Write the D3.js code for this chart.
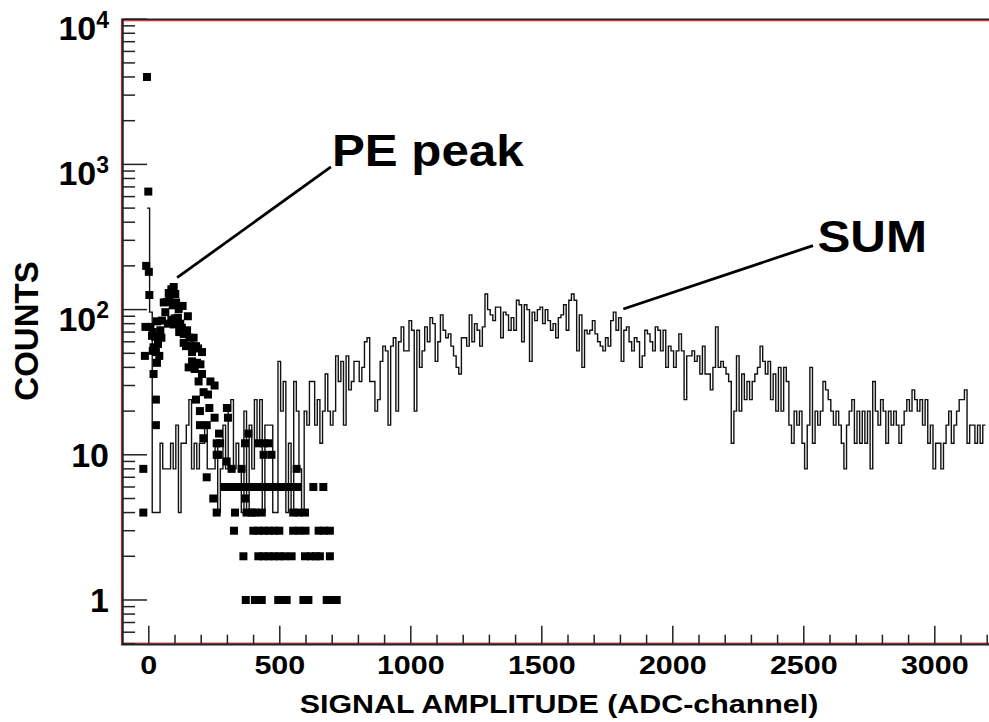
<!DOCTYPE html>
<html>
<head>
<meta charset="utf-8">
<script src="https://cdn.jsdelivr.net/npm/d3@7"></script>
<style>
  body { margin: 0; background: #fff; }
  svg { display: block; font-family: "Liberation Sans", Arial, Helvetica, sans-serif; font-weight: bold; }
</style>
</head>
<body>
<div id="chart"></div>
<script>
// SUM histogram: counts in 10-channel bins, bins centred on 0, 10, 20, ...
const binWidth = 10;
const sumStart = 0;
const sumCounts = [
  500, 96, 4, 4, 4, 12, 8, 8, 8, 12,
  8, 16, 4, 12, 12, 16, 24, 8, 12, 8,
  12, 12, 16, 8, 8, 8, 12, 4, 8, 16,
  8, 20, 24, 8, 12, 8, 4, 20, 4, 16,
  8, 24, 12, 24, 4, 16, 16, 16, 4, 4,
  44, 20, 32, 4, 12, 4, 32, 20, 8, 4,
  20, 16, 32, 32, 16, 24, 12, 20, 36, 20,
  16, 20, 48, 32, 44, 16, 48, 28, 32, 44,
  44, 32, 40, 60, 64, 32, 32, 20, 24, 44,
  56, 52, 16, 56, 64, 20, 60, 76, 52, 52,
  84, 72, 20, 72, 40, 52, 76, 60, 88, 80,
  44, 60, 92, 72, 64, 68, 56, 48, 40, 36,
  64, 64, 56, 92, 60, 80, 72, 56, 76, 128,
  100, 92, 84, 104, 104, 64, 96, 92, 72, 88,
  72, 116, 108, 60, 108, 100, 44, 96, 84, 100,
  104, 80, 100, 84, 72, 80, 64, 88, 92, 108,
  72, 116, 128, 116, 52, 92, 40, 72, 68, 72,
  84, 68,
  60, 56, 52, 64, 56, 84, 96, 72, 88, 44,
  72, 76, 60, 52, 64, 60, 40, 48, 72, 68,
  60, 52, 76, 72, 52, 72, 40, 56, 52, 40,
  52, 68, 52, 24, 48, 48, 52, 44, 48, 36,
  56, 36, 36, 28, 40, 76, 40, 44, 40, 36,
  32, 12, 20, 48, 20, 36, 24, 32, 24, 32,
  36, 40, 56, 44, 36, 44, 24, 36, 20, 40,
  20, 40, 32, 16, 12, 20, 16, 20, 12, 8,
  16, 40, 12, 20, 16, 20, 32, 28, 24, 20,
  16, 20, 16, 12, 8, 16, 20, 24, 12, 20,
  12, 20, 12, 20, 8, 32, 20, 16, 24, 20,
  12, 20, 16, 20, 16, 12, 16, 20, 24, 20,
  28, 24, 20, 24, 16, 24, 12, 16, 8, 12,
  12, 8, 12, 16, 20, 12, 16, 20, 24, 24,
  28, 12, 16, 16, 12, 16, 12, 16
];

// PE peak points (ADC channel, counts)
const peChannels = [
  -5, 0, -8, 2, 4, -11, -13, -19, -19,
  8, 14, 17, 17, 20, 20, 27, 29, 29, 29, 33, 33, 37, 42, 46, 50, 52,
  59, 65, 71, 75, 78, 80, 88, 88, 93, 97, 97, 101, 103, 106, 113, 116, 118, 122, 128,
  131, 135, 135, 144, 148, 151, 154, 157, 164, 167, 167, 173, 177, 182, 182, 186, 190,
  192, 197, 197, 199, 205, 205, 210, 211, 223, 223, 228, 233, 237, 248, 253, 253,
  261, 261, 261, 267, 270, 274, 299, 300, 304,
  318, 356, 566,
  369, 420, 440, 458, 382, 440, 470,
  290, 310, 330, 350, 370, 390, 410, 430, 450, 470, 490, 510, 530, 550, 570, 630, 668,
  369,
  331, 375, 395, 407, 433, 553, 575, 598,
  327, 401, 420, 440, 460, 480, 500, 553, 575, 600, 650, 670, 693,
  363, 420, 440, 460, 480, 500, 520, 547, 598, 620, 640, 655, 693,
  372, 407, 433, 496, 515, 528, 592, 611, 681, 700, 719
];
const peCounts = [
  4000, 650, 200, 182, 126, 76, 48, 8, 4,
  76, 66, 70, 52, 55, 36, 65, 51, 24, 16, 83, 43, 58, 48, 72, 64, 84,
  112, 96, 113, 80, 130, 115, 138, 85, 107, 143, 79, 87, 128, 112, 88, 101, 70, 80, 75,
  106, 68, 59, 56, 72, 90, 40, 64, 56, 51, 44, 64, 39, 56, 24, 43, 54,
  32, 20, 16, 42, 51, 36, 13, 27, 16, 7, 26, 21, 32, 5, 30, 18,
  12, 10, 4, 10, 14, 12, 9, 21, 18,
  8, 8, 8,
  12, 12, 12, 12, 14, 10, 10,
  6, 6, 6, 6, 6, 6, 6, 6, 6, 6, 6, 6, 6, 6, 6, 6, 6,
  5,
  4, 4, 4, 4, 4, 4, 4, 4,
  3, 3, 3, 3, 3, 3, 3, 3, 3, 3, 3, 3, 3,
  2, 2, 2, 2, 2, 2, 2, 2, 2, 2, 2, 2, 2,
  1, 1, 1, 1, 1, 1, 1, 1, 1, 1, 1
];

const xTickValues = [0, 500, 1000, 1500, 2000, 2500, 3000];
const yTickValues = [1, 10, 100, 1000, 10000];
const yTickBase = ["1", "10", "10", "10", "10"];
const yTickExp = ["", "", "2", "3", "4"];

// annotations in data coordinates
const annotations = [
  { text: "PE peak", from: [110, 166], to: [697, 960], at: [701, 975] },
  { text: "SUM", from: [1813, 101], to: [2537, 276], at: [2554, 249] }
];

const width = 989, height = 722;

const svg = d3.select("#chart").append("svg")
  .attr("width", width)
  .attr("height", height);

svg.append("rect").attr("width", width).attr("height", height).attr("fill", "#fff");

// scales
const x = d3.scaleLinear().domain([0, 3000]).range([148.3, 934.3]);
const y = d3.scaleLog().domain([0.5, 10000]).range([643.7, 19.2]);

const plotLeft = x(-104), plotRight = x(3400), plotTop = y(10000), plotBottom = y(0.5);

svg.append("defs").append("clipPath").attr("id", "plot")
  .append("rect").attr("x", plotLeft).attr("y", plotTop)
  .attr("width", plotRight - plotLeft).attr("height", plotBottom - plotTop);

// frame: red border inside black axis lines
svg.append("rect")
  .attr("x", plotLeft + 0.5).attr("y", plotTop + 1.5)
  .attr("width", plotRight - plotLeft).attr("height", plotBottom - plotTop - 2)
  .attr("fill", "none").attr("stroke", "#c0282d").attr("stroke-width", 1.2);
svg.append("line").attr("x1", plotLeft).attr("x2", plotRight).attr("y1", plotTop).attr("y2", plotTop)
  .attr("stroke", "#222").attr("stroke-width", 1.6);
svg.append("line").attr("x1", plotLeft + 1.8).attr("x2", plotLeft + 1.8).attr("y1", plotTop).attr("y2", plotBottom + 1)
  .attr("stroke", "#222").attr("stroke-width", 1.8);
svg.append("line").attr("x1", plotLeft).attr("x2", plotRight).attr("y1", plotBottom + 0.8).attr("y2", plotBottom + 0.8)
  .attr("stroke", "#222").attr("stroke-width", 1.8);

// x axis ticks (inside, pointing up)
const xMinor = d3.range(100, 3300, 100).filter(v => v % 500 !== 0);
const xAxisMajor = svg.append("g")
  .attr("transform", `translate(0,${plotBottom})`)
  .call(d3.axisBottom(x).tickValues(xTickValues).tickSize(-18).tickFormat(d3.format("d")));
xAxisMajor.select(".domain").remove();
xAxisMajor.selectAll("line").attr("stroke", "#222").attr("stroke-width", 1.5);
xAxisMajor.selectAll("text")
  .attr("y", 30.5).attr("dy", 0)
  .attr("transform", "scale(1.15,1)")
  .style("font-size", "26.5px").style("font-weight", "bold").attr("fill", "#000")
  .style("font-family", "Liberation Sans, Arial, sans-serif");

const xAxisMinor = svg.append("g")
  .attr("transform", `translate(0,${plotBottom})`)
  .call(d3.axisBottom(x).tickValues(xMinor).tickSize(-9).tickFormat(""));
xAxisMinor.select(".domain").remove();
xAxisMinor.selectAll("line").attr("stroke", "#222").attr("stroke-width", 1.5);

// y axis ticks (inside, pointing right)
const yAll = y.ticks();
const yMajorSet = new Set(yTickValues);
svg.append("g").selectAll("line")
  .data(yAll)
  .enter().append("line")
  .attr("x1", plotLeft + 2)
  .attr("x2", d => plotLeft + 2 + (yMajorSet.has(d) ? 24 : 12))
  .attr("y1", d => y(d)).attr("y2", d => y(d))
  .attr("stroke", "#222").attr("stroke-width", 1.5);

const yLabels = svg.append("g").selectAll("text")
  .data(yTickValues)
  .enter().append("text")
  .attr("x", 109)
  .attr("y", (d, i) => y(d) + (yTickExp[i] ? 21 : 12))
  .attr("text-anchor", "end")
  .style("font-size", "34px");
yLabels.append("tspan").text((d, i) => yTickBase[i]);
yLabels.append("tspan")
  .attr("dy", (d, i) => yTickExp[i] ? -12.5 : 0)
  .style("font-size", "23px")
  .text((d, i) => yTickExp[i]);

// axis titles
svg.append("text")
  .attr("transform", `translate(559,713) scale(1.17,1)`)
  .attr("text-anchor", "middle")
  .style("font-size", "26px")
  .text("SIGNAL AMPLITUDE (ADC-channel)");

svg.append("text")
  .attr("transform", "translate(38,331) rotate(-90)")
  .attr("text-anchor", "middle")
  .style("font-size", "33px")
  .text("COUNTS");

const plot = svg.append("g").attr("clip-path", "url(#plot)");

// SUM histogram outline
const sumBins = sumCounts.map((c, i) => [sumStart + i * binWidth - binWidth / 2, c]);
const lastBin = sumBins[sumBins.length - 1];
sumBins.push([lastBin[0] + binWidth, lastBin[1]]);

plot.append("path")
  .datum(sumBins)
  .attr("fill", "none")
  .attr("stroke", "#111")
  .attr("stroke-width", 1.4)
  .attr("d", d3.line()
    .x(d => x(d[0]))
    .y(d => y(d[1]))
    .curve(d3.curveStepAfter));

// PE peak points
const pePoints = peChannels.map((v, i) => ({ v: v, c: peCounts[i] }));
plot.selectAll(".pe")
  .data(pePoints)
  .enter().append("rect")
  .attr("class", "pe")
  .attr("x", d => x(d.v) - 4)
  .attr("y", d => y(d.c) - 4)
  .attr("width", 8)
  .attr("height", 8)
  .attr("fill", "#000");

// annotations
annotations.forEach(a => {
  svg.append("line")
    .attr("x1", x(a.from[0])).attr("y1", y(a.from[1]))
    .attr("x2", x(a.to[0])).attr("y2", y(a.to[1]))
    .attr("stroke", "#000").attr("stroke-width", 2.8);
  svg.append("text")
    .attr("transform", `translate(${x(a.at[0])},${y(a.at[1])}) scale(1.12,1)`)
    .style("font-size", "44px")
    .text(a.text);
});
</script>
</body>
</html>
